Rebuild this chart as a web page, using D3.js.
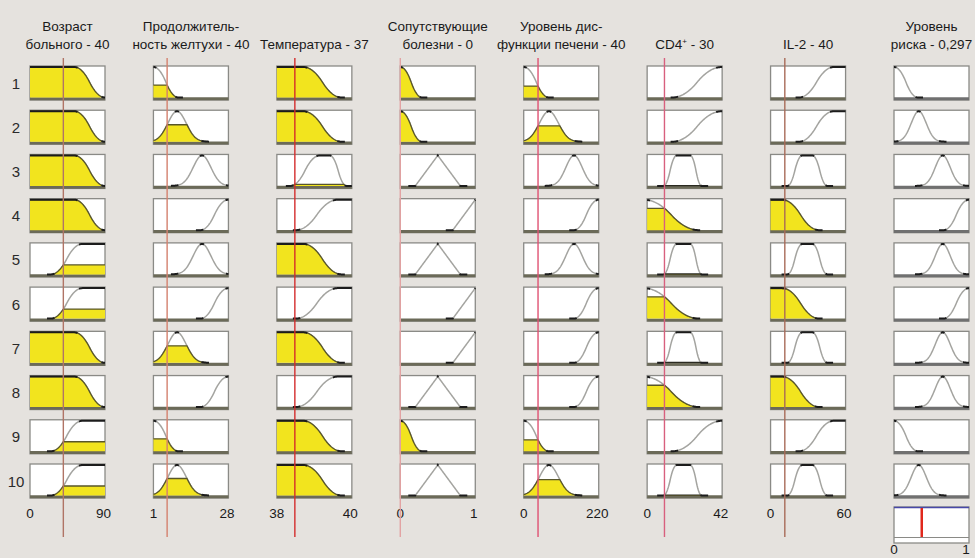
<!DOCTYPE html>
<html>
<head>
<meta charset="utf-8">
<script src="https://cdnjs.cloudflare.com/ajax/libs/d3/7.8.5/d3.min.js"></script>
<style>
    body { margin: 0; background: #e5e2de; }
    svg { display: block; }
    text { font-family: "Liberation Sans", Arial, sans-serif; fill: #1a1a1a; }
</style>
</head>
<body>
<div id="chart"></div>
<script>
// ---- data ----
let titles = [
    ["Возраст", "больного - 40"],
    ["Продолжитель-", "ность желтухи - 40"],
    ["Температура - 37"],
    ["Сопутствующие", "болезни - 0"],
    ["Уровень дис-", "функции печени - 40"],
    ["CD4⁺ - 30"],
    ["IL-2 - 40"],
    ["Уровень", "риска - 0,297"]
];
let ranges = [[0, 90], [1, 28], [38, 40], [0, 1], [0, 220], [0, 42], [0, 60], [0, 1]];
let inputs = [40, 5.93, 38.48, 0, 42, 9.7, 11.4];   // input line positions
let outputValue = 0.37;                               // red line in the result box
let rowLabels = ["1", "2", "3", "4", "5", "6", "7", "8", "9", "10"];

// membership functions for every variable
let mfAge = { A: ["zmf", 53, 90], B: ["smf", 25, 63] };
let mfJaundice = { A: ["zmf", 1, 10], B: ["gauss", 9.5, 3.3], C: ["gauss", 18.5, 3.2], D: ["smf", 17.9, 28] };
let mfTemp = { A: ["zmf", 38.7, 39.73], B: ["pimf", 38.35, 39.15, 39.41, 39.86], C: ["smf", 38.5, 39.63] };
let mfDisease = { A: ["zmf", 0, 0.29], B: ["trimf", 0.2, 0.5, 0.8], C: ["ramp", 0.7, 1] };
let mfLiver = { A: ["zmf", 0, 74], B: ["gauss", 74, 28], C: ["gauss", 147.6, 24], D: ["smf", 147, 220] };
let mfCD4 = { A: ["smf", 14, 42], B: ["pimf", 9.1, 16.6, 24.1, 30.6], C: ["zmf", -2, 29] };
let mfIL2 = { A: ["smf", 22.7, 50.7], B: ["pimf", 13.4, 25.4, 33.4, 45.4], C: ["zmf", 9, 39] };
let mfRisk = { A: ["zmf", 0, 0.32], B: ["gauss", 0.33, 0.1], C: ["gauss", 0.65, 0.1], D: ["smf", 0.66, 1] };
let mfSets = [mfAge, mfJaundice, mfTemp, mfDisease, mfLiver, mfCD4, mfIL2, mfRisk];

// which membership function each rule (row) uses in each column
let rules = [
    "AAAABBAABB",
    "ABCDCDBDAB",
    "AABCACACAA",
    "AABCBCCBAB",
    "ABCDCDDDAB",
    "AABCBCBCAB",
    "AABCBCBCAB",
    "ABCDCDCCAB"
];

// ---- style ----
let W = 975, H = 558;
let boxW = 75, boxH = 34;
let lineColors = ["#b07466", "#d4806e", "#d42c2c", "#e2a2a2", "#e05272", "#d8607e", "#a86a58"];

// ---- membership math ----
function zmf(x, a, b) {
    if (x <= a) return 1;
    if (x >= b) return 0;
    let m = (a + b) / 2;
    if (x <= m) return 1 - 2 * Math.pow((x - a) / (b - a), 2);
    return 2 * Math.pow((x - b) / (b - a), 2);
}
function evalMF(mf, x) {
    switch (mf[0]) {
        case "zmf": return zmf(x, mf[1], mf[2]);
        case "smf": return 1 - zmf(x, mf[1], mf[2]);
        case "gauss": return Math.exp(-Math.pow(x - mf[1], 2) / (2 * mf[2] * mf[2]));
        case "pimf": return Math.min(1 - zmf(x, mf[1], mf[2]), zmf(x, mf[3], mf[4]));
        case "trimf": return Math.max(0, Math.min((x - mf[1]) / (mf[2] - mf[1]), (mf[3] - x) / (mf[3] - mf[2])));
        case "ramp": return Math.max(0, Math.min(1, (x - mf[1]) / (mf[2] - mf[1])));
    }
    return 0;
}

let svg = d3.select("#chart").append("svg").attr("width", W).attr("height", H);
svg.append("rect").attr("width", W).attr("height", H).attr("fill", "#e5e2de");

let colLeft = d3.scalePoint().domain(d3.range(8)).range([30, 894]);
let rowTop = d3.scalePoint().domain(d3.range(10)).range([66, 464]);

// titles
titles.forEach(function (lines, c) {
    let cx = colLeft(c) + boxW / 2;
    let base = lines.length === 2 ? [30.5, 48.5] : [48.5];
    lines.forEach(function (s, k) {
        let t = svg.append("text")
            .attr("x", cx).attr("y", base[k])
            .attr("text-anchor", "middle")
            .style("font-size", "13.5px");
        let parts = s.split("⁺");
        t.append("tspan").text(parts[0]);
        if (parts.length > 1) {
            t.append("tspan").attr("dy", -5).style("font-size", "8px").text("+");
            t.append("tspan").attr("dy", 5).text(parts[1]);
        }
    });
});

// row numbers
rowLabels.forEach(function (s, r) {
    svg.append("text")
        .attr("x", 16).attr("y", rowTop(r) + boxH / 2 + 5.5)
        .attr("text-anchor", "middle")
        .style("font-size", "15px")
        .style("fill", "#2a2a2a")
        .text(s);
});

let N = 150, K = 16;

ranges.forEach(function (range, c) {
    let left = colLeft(c);
    let x = d3.scaleLinear().domain(range).range([left, left + boxW]);
    let xs = d3.range(N + 1).map(function (i) { return range[0] + (range[1] - range[0]) * i / N; });

    rules[c].split("").forEach(function (key, r) {
        let top = rowTop(r);
        let y = d3.scaleLinear().domain([0, 1]).range([top + boxH - 2.5, top + 1]);
        let mf = mfSets[c][key];
        let pts = xs.map(function (v) { return [v, evalMF(mf, v)]; });
        let cls = pts.map(function (p) { return p[1] >= 0.97 ? "top" : (p[1] <= 0.03 ? "low" : "mid"); });
        let nearMid = cls.map(function (k, i) {
            for (let j = Math.max(0, i - K); j <= Math.min(N, i + K); j++) {
                if (cls[j] === "mid") return true;
            }
            return false;
        });
        let isMid = function (i) {
            return cls[i] === "mid" || (i > 0 && cls[i - 1] === "mid") || (i < N && cls[i + 1] === "mid");
        };
        let isDark = function (i) {
            return cls[i] === "top" || (cls[i] === "low" && nearMid[i]);
        };

        let g = svg.append("g");
        g.append("rect")
            .attr("x", left).attr("y", top)
            .attr("width", boxW).attr("height", boxH)
            .attr("fill", "#ffffff")
            .attr("stroke", "#8a8a86")
            .attr("stroke-width", 1.3);
        g.append("line")
            .attr("x1", left).attr("x2", left + boxW)
            .attr("y1", top + boxH - 1.2).attr("y2", top + boxH - 1.2)
            .attr("stroke", c < 7 ? "#6b6a58" : "#707070")
            .attr("stroke-width", 3);

        let line = d3.line()
            .x(function (d) { return x(d[0]); })
            .y(function (d) { return y(d[1]); });

        g.append("path")
            .attr("d", line.defined(function (d, i) { return isMid(i); })(pts))
            .attr("fill", "none")
            .attr("stroke", "#a4a4a0")
            .attr("stroke-width", 1.5);

        // yellow area up to the degree of the input value
        if (c < 7) {
            let level = evalMF(mf, inputs[c]);
            if (level > 0.004) {
                let clip = pts.map(function (p) { return [p[0], Math.min(p[1], level)]; });
                g.append("path")
                    .attr("d", d3.area()
                        .x(function (d) { return x(d[0]); })
                        .y0(y(0))
                        .y1(function (d) { return y(d[1]); })(clip))
                    .attr("fill", "#f2e41e");
                g.append("path")
                    .attr("d", d3.line()
                        .defined(function (d, i) { return pts[i][1] > 0.002; })
                        .x(function (d) { return x(d[0]); })
                        .y(function (d) { return y(d[1]); })(clip))
                    .attr("fill", "none")
                    .attr("stroke", level < 0.05 ? "#2a2a20" : "#58562a")
                    .attr("stroke-width", 1.3);
            }
        }

        g.append("path")
            .attr("d", d3.line()
                .defined(function (d, i) { return isDark(i); })
                .x(function (d) { return x(d[0]); })
                .y(function (d) { return y(d[1]); })(pts))
            .attr("fill", "none")
            .attr("stroke", "#1c1c1c")
            .attr("stroke-width", 2);
    });

    // range labels under the column
    let labelY = c < 7 ? 518 : 554;
    range.forEach(function (v, k) {
        svg.append("text")
            .attr("x", x(v) - (k === 1 ? (c < 7 ? 1.5 : 3) : 0)).attr("y", labelY)
            .attr("text-anchor", "middle")
            .style("font-size", "13.5px")
            .text(String(v));
    });

    // input value line
    if (c < 7) {
        svg.append("line")
            .attr("x1", x(inputs[c])).attr("x2", x(inputs[c]))
            .attr("y1", 58).attr("y2", 537)
            .attr("stroke", lineColors[c])
            .attr("stroke-width", 1.4);
    }
});

// aggregated output box
let outLeft = colLeft(7);
let xo = d3.scaleLinear().domain(ranges[7]).range([outLeft, outLeft + boxW]);
svg.append("rect")
    .attr("x", outLeft).attr("y", 507)
    .attr("width", boxW).attr("height", 36)
    .attr("fill", "#ffffff")
    .attr("stroke", "#8a8a86")
    .attr("stroke-width", 1.3);
svg.append("line")
    .attr("x1", outLeft).attr("x2", outLeft + boxW)
    .attr("y1", 507.5).attr("y2", 507.5)
    .attr("stroke", "#4848a8").attr("stroke-width", 1.5);
svg.append("line")
    .attr("x1", outLeft).attr("x2", outLeft + boxW)
    .attr("y1", 537.5).attr("y2", 537.5)
    .attr("stroke", "#8a8a86").attr("stroke-width", 1.2);
svg.append("line")
    .attr("x1", xo(outputValue)).attr("x2", xo(outputValue))
    .attr("y1", 508).attr("y2", 537)
    .attr("stroke", "#e0281c").attr("stroke-width", 2.5);
</script>
</body>
</html>
